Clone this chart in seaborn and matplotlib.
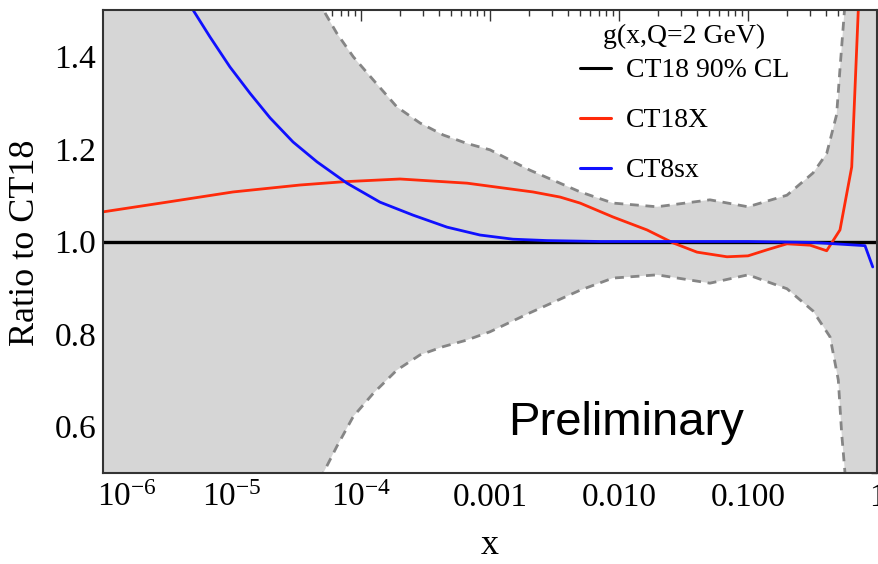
import numpy as np
import matplotlib
matplotlib.use("Agg")
import matplotlib.pyplot as plt
import matplotlib.transforms as mtransforms
from matplotlib.lines import Line2D
from matplotlib.ticker import FixedLocator, LogLocator, MultipleLocator, NullFormatter
import seaborn as sns

# ---- data (x given as log10 x) ----
band_upper_logx = [-6.0, -5.0, -4.5, -4.292, -4.188, -4.060, -3.905, -3.723, -3.543,
                   -3.362, -3.181, -3.0, -2.69, -2.30, -2.047, -1.705, -1.295, -1.0,
                   -0.698, -0.496, -0.39, -0.313, -0.285, -0.252, -0.2, 0.0]
band_upper = [2.8, 1.95, 1.62, 1.50, 1.450, 1.399, 1.349, 1.291, 1.256,
              1.230, 1.212, 1.198, 1.154, 1.107, 1.083, 1.075, 1.090, 1.075,
              1.100, 1.148, 1.190, 1.274, 1.380, 1.50, 1.9, 3.0]

band_lower_logx = [-6.0, -5.0, -4.5, -4.292, -4.188, -4.060, -3.905, -3.723, -3.543,
                   -3.362, -3.181, -3.0, -2.69, -2.30, -2.047, -1.705, -1.295, -1.0,
                   -0.698, -0.496, -0.364, -0.300, -0.274, -0.248, -0.2, 0.0]
band_lower = [-0.8, 0.05, 0.38, 0.50, 0.557, 0.622, 0.672, 0.722, 0.755,
              0.773, 0.787, 0.805, 0.846, 0.895, 0.921, 0.928, 0.910, 0.928,
              0.898, 0.850, 0.794, 0.701, 0.586, 0.50, 0.1, -1.0]

ct18x_logx = [-6.0, -5.504, -4.992, -4.473, -4.14, -3.698, -3.178, -2.667, -2.457,
              -2.302, -2.047, -1.783, -1.581, -1.395, -1.163, -1.0, -0.853, -0.698,
              -0.519, -0.390, -0.349, -0.287, -0.196, -0.145]
ct18x = [1.064, 1.085, 1.107, 1.122, 1.129, 1.135, 1.126, 1.107, 1.096,
         1.083, 1.053, 1.025, 0.997, 0.977, 0.967, 0.969, 0.982, 0.995,
         0.992, 0.980, 0.998, 1.025, 1.161, 1.5]

ct8sx_logx = [-5.302, -5.171, -5.016, -4.860, -4.705, -4.527, -4.341, -4.109, -3.853,
              -3.597, -3.333, -3.078, -2.822, -2.558, -2.147, -1.0, -0.5, -0.093, -0.033]
ct8sx = [1.5, 1.442, 1.377, 1.320, 1.267, 1.215, 1.172, 1.126, 1.085,
         1.057, 1.031, 1.014, 1.005, 1.002, 1.0, 1.0, 0.998, 0.991, 0.945]

ct18_logx = [-6.0, 0.0]
ct18 = [1.0, 1.0]

xtick_values = [1e-6, 1e-5, 1e-4, 1e-3, 1e-2, 1e-1, 1.0]
xtick_labels = [r"$10^{-6}$", r"$10^{-5}$", r"$10^{-4}$", "0.001", "0.010", "0.100", "1"]
ytick_values = [0.6, 0.8, 1.0, 1.2, 1.4]
ytick_labels = ["0.6", "0.8", "1.0", "1.2", "1.4"]

legend_title = "g(x,Q=2 GeV)"
series_names = ["CT18 90% CL", "CT18X", "CT8sx"]
series_colors = ["#000000", "#ff2a0a", "#1010ff"]

# ---- style ----
sns.set_theme(style="white")
plt.rcParams["font.family"] = ["Liberation Serif", "DejaVu Serif"]
plt.rcParams["mathtext.fontset"] = "custom"
plt.rcParams["mathtext.rm"] = "Liberation Serif"
plt.rcParams["mathtext.it"] = "Liberation Serif:italic"
plt.rcParams["mathtext.default"] = "rm"
for key in ("text.color", "axes.labelcolor", "xtick.labelcolor", "ytick.labelcolor"):
    plt.rcParams[key] = "black"

W, H = 879, 564
fig = plt.figure(figsize=(W / 100, H / 100), dpi=100)
ax = fig.add_axes([103 / W, 91 / H, 774 / W, 463 / H])

def xs(logs):
    return 10.0 ** np.asarray(logs)

band_grey = "#d6d6d6"
dash_grey = "#858585"
dash = (0, (3.2, 2.4))

# error band: filled between its upper and lower edges
grid = np.union1d(band_upper_logx, band_lower_logx)
up_g = np.interp(grid, band_upper_logx, band_upper)
lo_g = np.interp(grid, band_lower_logx, band_lower)
ax.fill_between(xs(grid), lo_g, up_g, color=band_grey, lw=0, zorder=1)

sns.lineplot(x=xs(band_upper_logx), y=band_upper, ax=ax, color=dash_grey, lw=2.0,
             linestyle=dash, estimator=None, sort=False, zorder=2)
sns.lineplot(x=xs(band_lower_logx), y=band_lower, ax=ax, color=dash_grey, lw=2.0,
             linestyle=dash, estimator=None, sort=False, zorder=2)

sns.lineplot(x=xs(ct18_logx), y=ct18, ax=ax, color=series_colors[0], lw=2.4,
             estimator=None, sort=False, zorder=3)
sns.lineplot(x=xs(ct18x_logx), y=ct18x, ax=ax, color=series_colors[1], lw=2.0,
             estimator=None, sort=False, zorder=4)
sns.lineplot(x=xs(ct8sx_logx), y=ct8sx, ax=ax, color=series_colors[2], lw=2.0,
             estimator=None, sort=False, zorder=5)

ax.set_xscale("log")
ax.set_xlim(1e-6, 1.0)
ax.set_ylim(0.5, 1.5)

# ticks
ax.xaxis.set_major_locator(FixedLocator(xtick_values))
ax.set_xticklabels(xtick_labels)
ax.xaxis.set_minor_locator(LogLocator(base=10, subs=np.arange(2, 10), numticks=20))
ax.xaxis.set_minor_formatter(NullFormatter())
ax.yaxis.set_major_locator(FixedLocator(ytick_values))
ax.set_yticklabels(ytick_labels)
ax.yaxis.set_minor_locator(MultipleLocator(0.05))

ax.tick_params(which="both", direction="in", top=True, right=True,
               color="#333333", width=1.0)
ax.tick_params(which="major", length=8, labelsize=24, pad=7)
ax.tick_params(which="minor", length=4.5)
ax.tick_params(axis="y", which="major", pad=5)

# the leftmost x label starts just left of its tick
first = ax.get_xticklabels()[0]
first.set_horizontalalignment("left")
first.set_transform(first.get_transform() +
                    mtransforms.ScaledTranslation(-6 / 100, 0, fig.dpi_scale_trans))

for sp in ax.spines.values():
    sp.set_color("#333333")
    sp.set_linewidth(1.5)
    sp.set_visible(True)
    sp.set_zorder(6)

# axis titles
fig.text(490 / W, 1 - 545 / H, "x", fontsize=26, ha="center", va="center")
fig.text(26 / W, 1 - 243 / H, "Ratio to CT18", fontsize=26, rotation=90,
         ha="center", va="center")

# legend
fig.text(684 / W, 1 - 36 / H, legend_title, fontsize=20, ha="center", va="center")
handles = [Line2D([0], [0], color=c, lw=2.2) for c in series_colors]
leg = ax.legend(handles, series_names, frameon=False, fontsize=20,
                loc="upper left", bbox_to_anchor=(580 / W, 1 - 58 / H),
                bbox_transform=fig.transFigure,
                handlelength=1.1, handletextpad=0.55, labelspacing=0.88,
                borderaxespad=0, borderpad=0)
leg.set_zorder(7)

fig.text(626 / W, 1 - 435 / H, "Preliminary", ha="center", va="baseline",
         fontsize=34, family=["Liberation Sans"], zorder=7)

fig.savefig("out.png", dpi=100)
